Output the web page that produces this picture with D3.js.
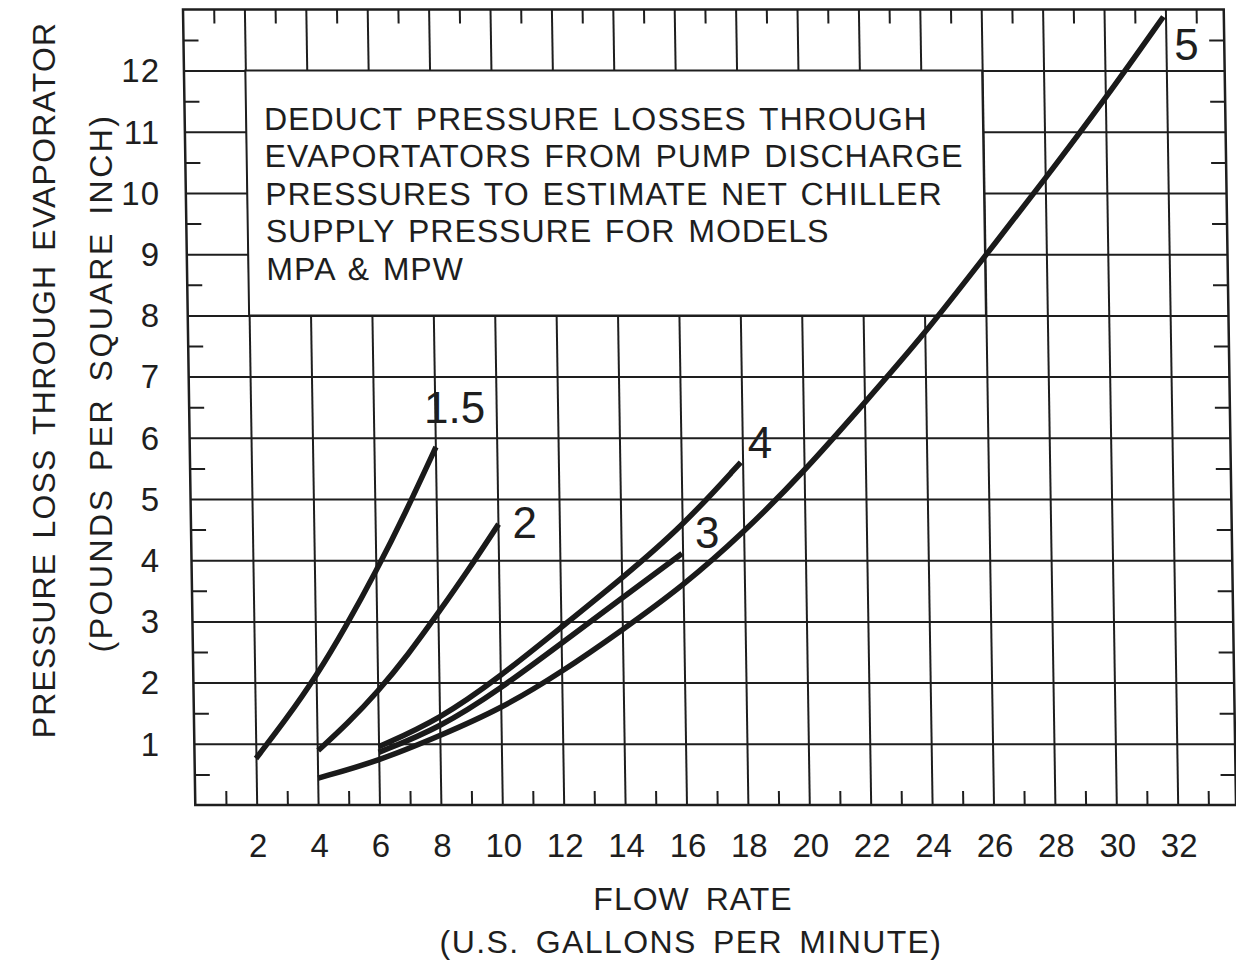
<!DOCTYPE html>
<html>
<head>
<meta charset="utf-8">
<script src="https://cdn.jsdelivr.net/npm/d3@7"></script>
<style>
  body { margin: 0; background: #fff; }
  svg text { font-family: "Liberation Sans", Arial, sans-serif; fill: #1e1e1e; }
</style>
</head>
<body>
<div id="chart"></div>
<script>
// tick values
var flowTicks = [2, 4, 6, 8, 10, 12, 14, 16, 18, 20, 22, 24, 26, 28, 30, 32];
var lossTicks = [1, 2, 3, 4, 5, 6, 7, 8, 9, 10, 11, 12];
var flowMinor = [1, 3, 5, 7, 9, 11, 13, 15, 17, 19, 21, 23, 25, 27, 29, 31, 33];
var lossMinor = [0.5, 1.5, 2.5, 3.5, 4.5, 5.5, 6.5, 7.5, 8.5, 9.5, 10.5, 11.5, 12.5];

// curves (flow gpm, pressure loss psi)
var curveNames = ["1.5", "2", "3", "4", "5"];
var flow15 = [2, 3, 4, 5, 6, 7, 8.02];
var loss15 = [0.76, 1.4, 2.1, 2.92, 3.81, 4.78, 5.85];
var flow2 = [4.03, 5, 6, 7, 8, 9, 10.02];
var loss2 = [0.89, 1.33, 1.85, 2.45, 3.13, 3.83, 4.59];
var flow3 = [6, 8, 10, 12, 14, 15.98];
var loss3 = [0.86, 1.26, 1.9, 2.64, 3.38, 4.11];
var flow4 = [6, 8, 10, 12, 14, 16, 17.94];
var loss4 = [0.95, 1.4, 2.1, 2.9, 3.7, 4.55, 5.6];
var flow5 = [4.02, 6, 8, 10, 12, 14, 16, 18, 20, 22, 24, 26, 28, 30, 31.93];
var loss5 = [0.44, 0.72, 1.13, 1.57, 2.17, 2.86, 3.58, 4.45, 5.45, 6.57, 7.7, 8.97, 10.23, 11.54, 12.88];

var noteLines = [
  "DEDUCT PRESSURE LOSSES THROUGH",
  "EVAPORTATORS FROM PUMP DISCHARGE",
  "PRESSURES TO ESTIMATE NET CHILLER",
  "SUPPLY PRESSURE FOR MODELS",
  "MPA & MPW"
];
var xTitle = "FLOW RATE";
var xSubtitle = "(U.S. GALLONS PER MINUTE)";
var yTitle = "PRESSURE LOSS THROUGH EVAPORATOR";
var ySubtitle = "(POUNDS PER SQUARE INCH)";

var curves = [
  {name: curveNames[0], flow: flow15, loss: loss15},
  {name: curveNames[1], flow: flow2, loss: loss2},
  {name: curveNames[2], flow: flow3, loss: loss3},
  {name: curveNames[3], flow: flow4, loss: loss4},
  {name: curveNames[4], flow: flow5, loss: loss5}
];

var svgWidth = 1236;
var svgHeight = 968;
var margin = {top: 9.4, left: 183};
var width = 33.9 * 30.7;
var height = 13 * 61.2;

// the scanned sheet leans a little, so the plot frame is skewed to match
var skewDeg = 0.885;
var lean = Math.tan(skewDeg * Math.PI / 180);

var x = d3.scaleLinear().domain([0, 33.9]).range([0, width]);
var y = d3.scaleLinear().domain([0, 13]).range([height, 0]);

function pageX(fv, lv) { return margin.left + x(fv) + lean * y(lv); }
function pageY(lv) { return margin.top + y(lv); }

var svg = d3.select("#chart")
  .append("svg")
  .attr("width", svgWidth)
  .attr("height", svgHeight);

svg.append("rect").attr("width", svgWidth).attr("height", svgHeight).attr("fill", "#fff");

var plot = svg.append("g")
  .attr("transform", `translate(${margin.left}, ${margin.top}) skewX(${skewDeg})`);

// grid
plot.append("g")
  .attr("transform", `translate(0, ${height})`)
  .call(d3.axisBottom(x).tickValues(flowTicks).tickSize(-height).tickFormat(""));
plot.append("g")
  .call(d3.axisLeft(y).tickValues(lossTicks).tickSize(-width).tickFormat(""));

// minor ticks on all four sides, pointing inward
plot.append("g")
  .attr("transform", `translate(0, ${height})`)
  .call(d3.axisBottom(x).tickValues(flowMinor).tickSize(-14).tickFormat(""));
plot.append("g")
  .call(d3.axisTop(x).tickValues(flowMinor).tickSize(-14).tickFormat(""));
plot.append("g")
  .call(d3.axisLeft(y).tickValues(lossMinor).tickSize(-15).tickFormat(""));
plot.append("g")
  .attr("transform", `translate(${width}, 0)`)
  .call(d3.axisRight(y).tickValues(lossMinor).tickSize(-15).tickFormat(""));

plot.selectAll(".tick line").attr("stroke", "#1e1e1e").attr("stroke-width", 2);
plot.selectAll(".domain").remove();

// note box
plot.append("rect")
  .attr("x", x(2))
  .attr("y", y(12))
  .attr("width", x(26) - x(2))
  .attr("height", y(8) - y(12))
  .attr("fill", "#fff")
  .attr("stroke", "#1e1e1e")
  .attr("stroke-width", 2);

plot.append("g")
  .selectAll("text")
  .data(noteLines)
  .enter()
  .append("text")
  .attr("x", x(2) + 18)
  .attr("y", (d, i) => 120.5 + i * 37.5)
  .style("font-size", "32px")
  .style("letter-spacing", "1px")
  .style("word-spacing", "3px")
  .text(d => d);

// curves
var line = d3.line()
  .x(d => x(d[0]))
  .y(d => y(d[1]))
  .curve(d3.curveBasis);

plot.append("g")
  .selectAll("path")
  .data(curves)
  .enter()
  .append("path")
  .attr("d", c => line(c.flow.map((f, i) => [f, c.loss[i]])))
  .attr("fill", "none")
  .attr("stroke", "#1a1a1a")
  .attr("stroke-width", 5.5);

// frame
plot.append("rect")
  .attr("width", width)
  .attr("height", height)
  .attr("fill", "none")
  .attr("stroke", "#1e1e1e")
  .attr("stroke-width", 2.5);

// curve labels, nudged off the end of each curve
var labelNudge = {"1.5": [-12, -24], "2": [14, 14], "3": [13, -5], "4": [7, -4], "5": [11, 43]};
svg.append("g")
  .selectAll("text")
  .data(curves)
  .enter()
  .append("text")
  .attr("x", c => {
    var n = c.flow.length - 1;
    return pageX(c.flow[n], c.loss[n]) + labelNudge[c.name][0];
  })
  .attr("y", c => pageY(c.loss[c.loss.length - 1]) + labelNudge[c.name][1])
  .style("font-size", "44px")
  .text(c => c.name);

// tick labels
svg.append("g")
  .selectAll("text")
  .data(flowTicks)
  .enter()
  .append("text")
  .attr("x", d => pageX(d, 0) + 1.5)
  .attr("y", pageY(0) + 52)
  .attr("text-anchor", "middle")
  .style("font-size", "33px")
  .text(d => d);

svg.append("g")
  .selectAll("text")
  .data(lossTicks)
  .enter()
  .append("text")
  .attr("x", 160)
  .attr("y", d => pageY(d) + 11.8)
  .attr("text-anchor", "end")
  .style("font-size", "33px")
  .style("letter-spacing", "1px")
  .text(d => d);

// axis titles
svg.append("text")
  .attr("x", 693)
  .attr("y", 910)
  .attr("text-anchor", "middle")
  .style("font-size", "32px")
  .style("letter-spacing", "1px")
  .style("word-spacing", "6px")
  .text(xTitle);

svg.append("text")
  .attr("x", 691)
  .attr("y", 953)
  .attr("text-anchor", "middle")
  .style("font-size", "32px")
  .style("letter-spacing", "1.4px")
  .style("word-spacing", "6px")
  .text(xSubtitle);

svg.append("text")
  .attr("transform", "translate(55, 380) rotate(-90)")
  .attr("text-anchor", "middle")
  .style("font-size", "32px")
  .style("letter-spacing", "1.2px")
  .style("word-spacing", "4px")
  .text(yTitle);

svg.append("text")
  .attr("transform", "translate(112, 383) rotate(-90)")
  .attr("text-anchor", "middle")
  .style("font-size", "32px")
  .style("letter-spacing", "2.5px")
  .style("word-spacing", "5px")
  .text(ySubtitle);
</script>
</body>
</html>
